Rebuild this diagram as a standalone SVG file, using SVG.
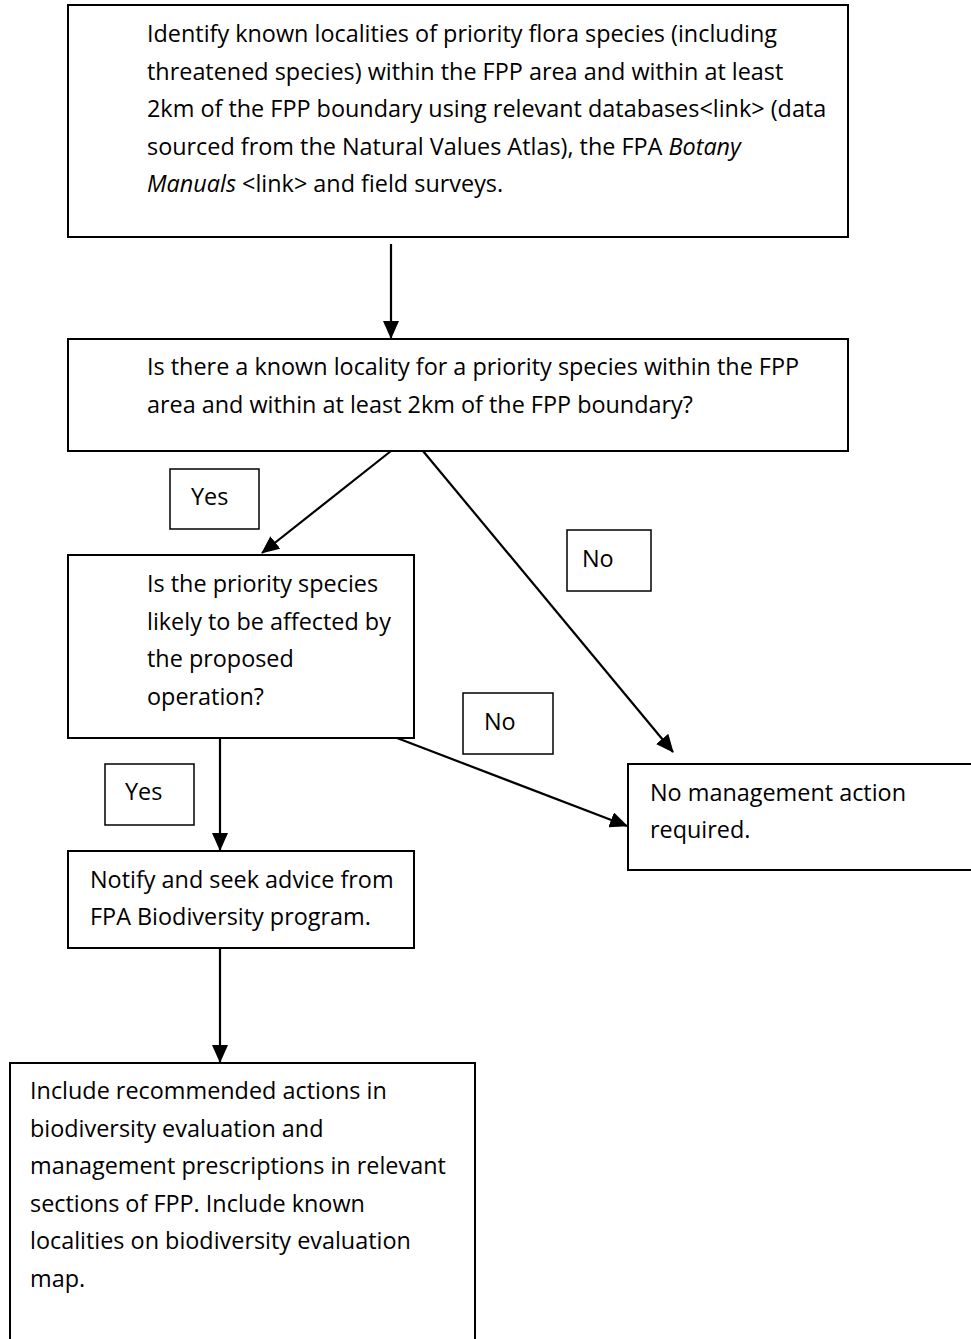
<svg xmlns="http://www.w3.org/2000/svg" width="971" height="1339" viewBox="0 0 971 1339">
<style>
  .box { fill: #ffffff; stroke: #000000; stroke-width: 2; }
  .lbl { fill: #ffffff; stroke: #000000; stroke-width: 1.5; }
  .t { font-family: "Open Sans", "Liberation Sans", sans-serif; font-size: 23.4px; fill: #000000; }
  .it { font-style: italic; }
  .conn { stroke: #000000; stroke-width: 2.2; fill: none; marker-end: url(#arr); }
</style>
<defs>
  <marker id="arr" viewBox="0 0 18 16" refX="17" refY="8" markerWidth="18" markerHeight="16" markerUnits="userSpaceOnUse" orient="auto">
    <path d="M0,0 L18,8 L0,16 Z" fill="#000000"/>
  </marker>
</defs>
<rect width="971" height="1339" fill="#ffffff"/>

<g id="connectors">
  <line class="conn" x1="391" y1="244" x2="391" y2="338"/>
  <line class="conn" x1="391" y1="451" x2="262" y2="553"/>
  <line class="conn" x1="423" y1="451" x2="673" y2="752"/>
  <line class="conn" x1="397" y1="738" x2="627" y2="826"/>
  <line class="conn" x1="220" y1="738" x2="220" y2="850"/>
  <line class="conn" x1="220" y1="948" x2="220" y2="1062"/>
</g>

<g id="node-identify">
  <rect class="box" x="68" y="5" width="780" height="232"/>
  <text class="t" x="147" y="42">Identify known localities of priority flora species (including</text>
  <text class="t" x="147" y="79.5">threatened species) within the FPP area and within at least</text>
  <text class="t" x="147" y="117">2km of the FPP boundary using relevant databases&lt;link&gt; (data</text>
  <text class="t" x="147" y="154.5">sourced from the Natural Values Atlas), the FPA <tspan class="it">Botany</tspan></text>
  <text class="t" x="147" y="192"><tspan class="it">Manuals</tspan> &lt;link&gt; and field surveys.</text>
</g>

<g id="node-known-locality">
  <rect class="box" x="68" y="339" width="780" height="112"/>
  <text class="t" x="147" y="375">Is there a known locality for a priority species within the FPP</text>
  <text class="t" x="147" y="413">area and within at least 2km of the FPP boundary?</text>
</g>

<g id="label-yes-1">
  <rect class="lbl" x="170" y="469" width="89" height="60"/>
  <text class="t" x="191" y="505">Yes</text>
</g>

<g id="label-no-1">
  <rect class="lbl" x="567" y="530" width="84" height="61"/>
  <text class="t" x="582" y="567">No</text>
</g>

<g id="node-affected">
  <rect class="box" x="68" y="555" width="346" height="183"/>
  <text class="t" x="147" y="592">Is the priority species</text>
  <text class="t" x="147" y="629.5">likely to be affected by</text>
  <text class="t" x="147" y="667">the proposed</text>
  <text class="t" x="147" y="704.5">operation?</text>
</g>

<g id="label-no-2">
  <rect class="lbl" x="463" y="693" width="90" height="61"/>
  <text class="t" x="484" y="730">No</text>
</g>

<g id="label-yes-2">
  <rect class="lbl" x="105" y="764" width="89" height="61"/>
  <text class="t" x="125" y="800">Yes</text>
</g>

<g id="node-no-action">
  <rect class="box" x="628" y="764" width="360" height="106"/>
  <text class="t" x="650" y="801">No management action</text>
  <text class="t" x="650" y="838">required.</text>
</g>

<g id="node-notify">
  <rect class="box" x="68" y="851" width="346" height="97"/>
  <text class="t" x="90" y="888">Notify and seek advice from</text>
  <text class="t" x="90" y="925">FPA Biodiversity program.</text>
</g>

<g id="node-include">
  <rect class="box" x="10" y="1063" width="465" height="300"/>
  <text class="t" x="30" y="1099">Include recommended actions in</text>
  <text class="t" x="30" y="1137">biodiversity evaluation and</text>
  <text class="t" x="30" y="1174">management prescriptions in relevant</text>
  <text class="t" x="30" y="1212">sections of FPP. Include known</text>
  <text class="t" x="30" y="1249">localities on biodiversity evaluation</text>
  <text class="t" x="30" y="1287">map.</text>
</g>
</svg>
